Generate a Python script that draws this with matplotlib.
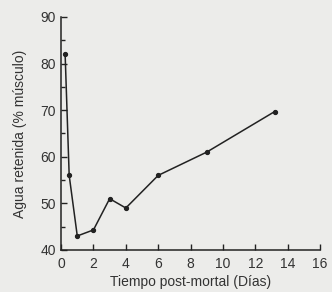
import matplotlib
matplotlib.use('Agg')
import matplotlib.pyplot as plt
from matplotlib.ticker import MultipleLocator

plt.rcParams['font.family'] = ['Liberation Sans', 'DejaVu Sans']

# data
dias = [0.25, 0.5, 1.0, 2.0, 3.0, 4.0, 6.0, 9.0, 13.2]
agua = [82, 56, 43, 44.3, 51, 49, 56, 61, 69.7]

fig = plt.figure(figsize=(3.32, 2.92), dpi=100, facecolor='#ececea')
ax = fig.add_axes([0.184, 0.144, 0.78, 0.798])
ax.set_facecolor('#ececea')

ax.plot(dias, agua, color='#222222', linewidth=1.1, marker='o', markersize=2.8)

ax.set_xlim(0, 16)
ax.set_ylim(40, 90)
ax.xaxis.set_major_locator(MultipleLocator(2))
ax.yaxis.set_major_locator(MultipleLocator(10))
ax.yaxis.set_minor_locator(MultipleLocator(5))

for s in ['top', 'right']:
    ax.spines[s].set_visible(False)
for s in ['left', 'bottom']:
    ax.spines[s].set_color('#222222')
    ax.spines[s].set_linewidth(1.1)

ax.tick_params(which='both', direction='in', color='#222222', width=1.0,
               labelsize=10, labelcolor='#333333')
ax.tick_params(which='major', length=4)
ax.tick_params(which='minor', length=3)
ax.tick_params(axis='x', pad=5)

ax.set_xlabel('Tiempo post-mortal (Días)', fontsize=10, color='#333333', labelpad=3)
ax.set_ylabel('Agua retenida (% músculo)', fontsize=10, color='#333333', labelpad=10)

fig.savefig('out.png', dpi=100, facecolor=fig.get_facecolor())
